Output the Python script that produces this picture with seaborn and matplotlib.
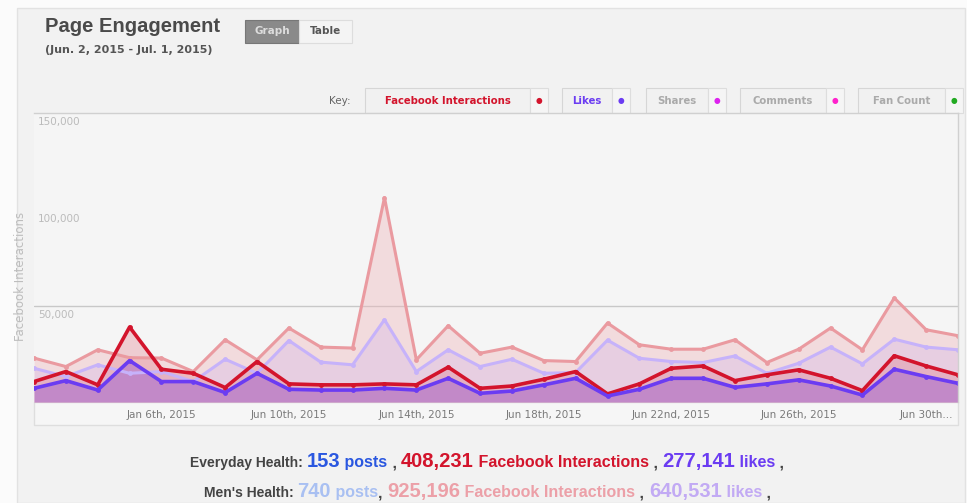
import matplotlib.pyplot as plt
import matplotlib.patches as mpatches
import pandas as pd
import seaborn as sns

# daily values, Jun 2 - Jul 1, 2015
dates = pd.date_range("2015-06-02", "2015-07-01", freq="D")
men_fb = [22800, 18400, 27100, 23000, 22800, 15800, 32300, 21900, 38400, 28500,
          28000, 106100, 21900, 39600, 25300, 28500, 21500, 21000, 41000, 29700,
          27400, 27400, 32300, 20500, 27400, 38400, 27100, 54000, 37500, 34400]
men_likes = [17500, 13200, 19300, 14900, 15800, 10600, 22200, 14900, 31900, 20700,
             19300, 42700, 15800, 27100, 18400, 22200, 14900, 15300, 32100, 22700,
             21000, 20500, 23900, 14900, 20100, 28500, 19800, 32600, 28500, 27100]
ev_fb = [10600, 15800, 8900, 38900, 17000, 14900, 7500, 21000, 9400, 8900,
         8900, 9400, 8900, 18100, 7100, 8300, 11800, 15800, 4200, 9400,
         17500, 18700, 11100, 14100, 16700, 12300, 5900, 24000, 18700, 14100]
ev_likes = [7100, 11100, 6200, 21500, 10600, 10600, 4900, 14900, 6600, 6200,
            6200, 7100, 6200, 12300, 4500, 5700, 8900, 12300, 3100, 6600,
            12300, 12300, 7600, 9400, 11500, 8300, 3600, 17000, 13200, 9700]

tick_dates = pd.to_datetime(["2015-06-06", "2015-06-10", "2015-06-14", "2015-06-18",
                             "2015-06-22", "2015-06-26", "2015-06-30"])
tick_labels = ["Jan 6th, 2015", "Jun 10th, 2015", "Jun 14th, 2015", "Jun 18th, 2015",
               "Jun 22nd, 2015", "Jun 26th, 2015", "Jun 30th..."]
y_ticks = [50000, 100000, 150000]

df = pd.DataFrame({"date": dates, "men_fb": men_fb, "men_likes": men_likes,
                   "ev_fb": ev_fb, "ev_likes": ev_likes})

sns.set_style("white")
plt.rcParams["font.family"] = ["Liberation Sans", "DejaVu Sans"]
small_font = ["DejaVu Sans"]  # wider face for the small ui text

W, H = 967, 503
fig = plt.figure(figsize=(W / 100, H / 100), dpi=100, facecolor="#fbfbfb")


def px(x, y):
    return x / W, 1 - y / H


# outer panel
fig.patches.append(mpatches.Rectangle(px(17, 503), (965 - 17) / W, (503 - 8) / H,
                                      transform=fig.transFigure, fc="#f2f2f2",
                                      ec="#e2e2e2", lw=1, zorder=-2))
# tick label band below the plot
fig.patches.append(mpatches.Rectangle(px(34, 425), (958 - 34) / W, 23 / H,
                                      transform=fig.transFigure, fc="#f6f6f6",
                                      ec="#dedede", lw=1, zorder=-1))

x0, y0 = px(34, 402)
ax = fig.add_axes([x0, y0, (958 - 34) / W, (402 - 113) / H])
ax.set_zorder(3)
ax.set_facecolor("#f5f5f5")

series = [
    ("men_fb", "#ea9aa0", "#efb5ba", 0.40, 2.2),
    ("men_likes", "#c6b2fa", "#d4b6ea", 0.35, 2.2),
    ("ev_fb", "#d3142c", "#e0707e", 0.30, 2.6),
    ("ev_likes", "#6b3cf2", "#9a5ad0", 0.45, 2.6),
]
for col, lc, fc, a, lw in series:
    ax.fill_between(df["date"], 0, df[col], color=fc, alpha=a, lw=0)
for col, lc, fc, a, lw in series:
    sns.lineplot(data=df, x="date", y=col, ax=ax, color=lc, lw=lw,
                 marker="o", markersize=3.5, markeredgewidth=0)

ax.set_xlim(dates[0], dates[-1])
ax.set_ylim(0, 150000)
ax.set_xlabel("")
ax.set_ylabel("")
ax.set_yticks([])
ax.set_xticks(tick_dates)
ax.set_xticklabels(tick_labels, fontsize=7.5, color="#7a7a7a", family=small_font)
ax.tick_params(axis="x", length=0, pad=6)
for s in ["left", "bottom"]:
    ax.spines[s].set_visible(False)
for s in ["top", "right"]:
    ax.spines[s].set_color("#d0d0d0")
    ax.spines[s].set_linewidth(1)
ax.axhline(50000, color="#c8c8c8", lw=1, zorder=0.5)
for v in y_ticks:
    ax.annotate(f"{v:,}", xy=(0, v), xycoords=("axes fraction", "data"),
                xytext=(3, -3), textcoords="offset points", va="top", ha="left",
                fontsize=7.5, color="#bbbbbb", family=small_font)

fig.text(*px(21, 276), "Facebook Interactions", rotation=90, fontsize=8.5,
         color="#bdbdbd", ha="center", va="center", family=small_font)

# header
fig.text(*px(45, 27), "Page Engagement", fontsize=14.5, fontweight="bold",
         color="#4a4a4a", va="center")
fig.text(*px(45, 50), "(Jun. 2, 2015 - Jul. 1, 2015)", fontsize=8,
         fontweight="bold", color="#555555", va="center", family=small_font)
fig.patches.append(mpatches.Rectangle(px(245, 43), 54 / W, 23 / H,
                                      transform=fig.transFigure, fc="#8a8a8a",
                                      ec="#777777", lw=0.8))
fig.patches.append(mpatches.Rectangle(px(299, 43), 53 / W, 23 / H,
                                      transform=fig.transFigure, fc="#f4f4f4",
                                      ec="#dddddd", lw=0.8))
fig.text(*px(272, 31.5), "Graph", fontsize=7.5, fontweight="bold", color="#dddddd",
         ha="center", va="center", family=small_font)
fig.text(*px(326, 31.5), "Table", fontsize=7.5, fontweight="bold", color="#555555",
         ha="center", va="center", family=small_font)

# key row
fig.text(*px(351, 101), "Key:", fontsize=7.5, color="#666666", ha="right",
         va="center", family=small_font)
keys = [
    ("Facebook Interactions", "#d3142c", 365, 530, "#d3142c", 548),
    ("Likes", "#6b3cf2", 562, 612, "#6b3cf2", 630),
    ("Shares", "#aaaaaa", 646, 708, "#dd22ee", 726),
    ("Comments", "#aaaaaa", 740, 826, "#ff22cc", 844),
    ("Fan Count", "#aaaaaa", 858, 945, "#22aa22", 963),
]
for label, tc, xa, xb, dc, xd in keys:
    fig.patches.append(mpatches.Rectangle(px(xa, 113), (xb - xa) / W, 25 / H,
                                          transform=fig.transFigure, fc="#f1f1f1",
                                          ec="#d6d6d6", lw=0.8))
    fig.patches.append(mpatches.Rectangle(px(xb, 113), (xd - xb) / W, 25 / H,
                                          transform=fig.transFigure, fc="#f5f5f5",
                                          ec="#dddddd", lw=0.8))
    fig.text(*px((xa + xb) / 2, 101), label, fontsize=7.3, fontweight="bold",
             color=tc, ha="center", va="center", family=small_font)
    fig.text(*px((xb + xd) / 2, 101), "\u25cf", fontsize=5.5, color=dc,
             ha="center", va="center", family=small_font)

# summary lines below the chart
renderer = fig.canvas.get_renderer()


def text_run(x, y, parts):
    for s, size, color, weight in parts:
        t = fig.text(*px(x, y), s, fontsize=size, color=color, fontweight=weight,
                     va="baseline", ha="left")
        x += t.get_window_extent(renderer).width


text_run(190, 467, [
    ("Everyday Health: ", 10, "#444444", "bold"),
    ("153", 14.5, "#2a57e0", "bold"),
    (" posts", 11.5, "#2a57e0", "bold"),
    (" , ", 11.5, "#444444", "bold"),
    ("408,231", 14.5, "#d3142c", "bold"),
    (" Facebook Interactions", 11.5, "#d3142c", "bold"),
    (" , ", 11.5, "#444444", "bold"),
    ("277,141", 14.5, "#6b3cf2", "bold"),
    (" likes", 11.5, "#6b3cf2", "bold"),
    (" ,", 11.5, "#444444", "bold"),
])
text_run(204, 497, [
    ("Men's Health: ", 10, "#444444", "bold"),
    ("740", 14.5, "#a9c0f2", "bold"),
    (" posts", 11.5, "#a9c0f2", "bold"),
    (", ", 11.5, "#444444", "bold"),
    ("925,196", 14.5, "#eca0a8", "bold"),
    (" Facebook Interactions", 11.5, "#eca0a8", "bold"),
    (" , ", 11.5, "#444444", "bold"),
    ("640,531", 14.5, "#c2aaf4", "bold"),
    (" likes", 11.5, "#c2aaf4", "bold"),
    (" ,", 11.5, "#444444", "bold"),
])

fig.savefig("out.png", dpi=100, facecolor=fig.get_facecolor())
